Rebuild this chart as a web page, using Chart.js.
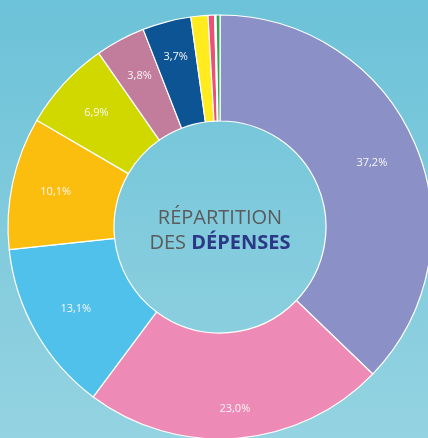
<!DOCTYPE html>
<html>
<head>
<meta charset="utf-8">
<script src="https://cdn.jsdelivr.net/npm/chart.js@4/dist/chart.umd.min.js"></script>
<style>
  html, body { margin: 0; padding: 0; width: 428px; height: 438px; overflow: hidden; }
  body { background: linear-gradient(to bottom, #6cc2d8 0%, #94d3e1 100%); position: relative; }
  #wrap { position: absolute; left: 0; top: 7px; width: 440px; height: 440px; }
</style>
</head>
<body>
<div id="wrap"><canvas id="chart"></canvas></div>
<script>
// parts of spending, clockwise from the top
const labels = ["A", "B", "C", "D", "E", "F", "G", "H", "I", "J", "K"];
const values = [37.2, 23.0, 13.1, 10.1, 6.9, 3.8, 3.7, 1.3, 0.5, 0.1, 0.3];
const shownLabels = ["37,2%", "23,0%", "13,1%", "10,1%", "6,9%", "3,8%", "3,7%", "", "", "", ""];
const colors = ["#8b90c7", "#ee8ab6", "#4fc1ea", "#fbbd0e", "#d0d800", "#c27c9c",
                "#0d5494", "#ffeb1e", "#ea5178", "#f3c4d4", "#2ea84a"];

// how far from the centre each percentage is written
const labelRadius = [165, 182, 166, 168, 168, 171, 176, 0, 0, 0, 0];

const sliceLabels = {
  id: "sliceLabels",
  afterDatasetsDraw(chart) {
    const ctx = chart.ctx;
    const arcs = chart.getDatasetMeta(0).data;
    ctx.save();
    ctx.font = "11px 'Open Sans', sans-serif";
    ctx.fillStyle = "#f7f7f7";
    ctx.textAlign = "center";
    ctx.textBaseline = "middle";
    arcs.forEach((arc, i) => {
      if (!shownLabels[i]) return;
      const mid = (arc.startAngle + arc.endAngle) / 2;
      const r = labelRadius[i];
      ctx.fillText(shownLabels[i], arc.x + Math.cos(mid) * r, arc.y + Math.sin(mid) * r);
    });

    // title in the hole
    const cx = arcs[0].x, cy = arcs[0].y;
    ctx.textAlign = "left";
    ctx.textBaseline = "alphabetic";
    ctx.font = "20px 'Open Sans', sans-serif";
    ctx.fillStyle = "#5b5b5b";
    const l1 = "RÉPARTITION";
    ctx.fillText(l1, cx - ctx.measureText(l1).width / 2, cy - 3);

    const a = "DES ", b = "DÉPENSES";
    const wa = ctx.measureText(a).width;
    ctx.font = "bold 20px 'Open Sans', sans-serif";
    const wb = ctx.measureText(b).width;
    const x0 = cx - (wa + wb) / 2;
    ctx.font = "20px 'Open Sans', sans-serif";
    ctx.fillText(a, x0, cy + 22);
    ctx.font = "bold 20px 'Open Sans', sans-serif";
    ctx.fillStyle = "#2b3886";
    ctx.fillText(b, x0 + wa, cy + 22);
    ctx.restore();
  }
};

new Chart(document.getElementById("chart"), {
  type: "doughnut",
  data: {
    labels: labels,
    datasets: [{
      data: values,
      backgroundColor: colors,
      borderColor: "#ffffff",
      borderWidth: 1.2,
      hoverOffset: 0,
      offset: 0
    }]
  },
  options: {
    responsive: true,
    maintainAspectRatio: false,
    animation: false,
    radius: 212,
    cutout: "50%",
    layout: { padding: 0 },
    plugins: {
      legend: { display: false },
      tooltip: { enabled: false }
    }
  },
  plugins: [sliceLabels]
});
</script>
</body>
</html>
